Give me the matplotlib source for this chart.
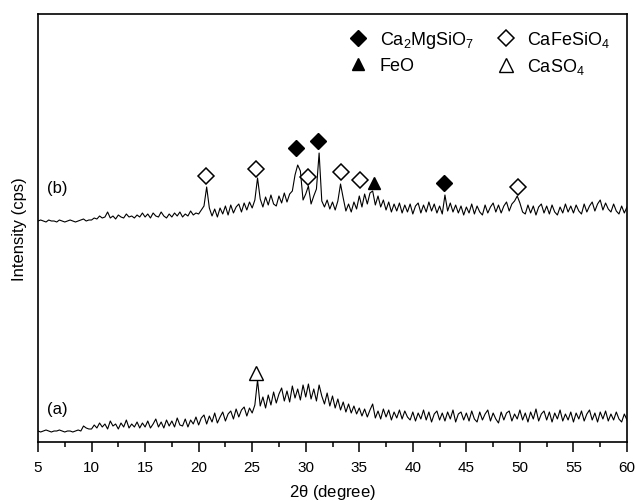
import numpy as np
import matplotlib.pyplot as plt
from matplotlib.lines import Line2D
from matplotlib.ticker import MultipleLocator

plt.rcParams['font.family'] = ['Liberation Sans', 'DejaVu Sans']
plt.rcParams['mathtext.default'] = 'regular'

# Barrido 2theta: de 5 a 60 grados, paso 0.25
two_theta_start = 5.0
two_theta_end = 60.0

# Intensidad (cps, unidades arbitrarias) de la muestra (a)
int_a = [
    11, 10, 11, 12, 11, 10, 11, 11, 12, 11, 10, 11, 11, 10, 11, 12, 11, 16, 14, 13,
    13, 17, 14, 19, 15, 18, 13, 21, 16, 18, 13, 19, 15, 22, 14, 18, 15, 20, 14, 19,
    15, 21, 14, 18, 23, 15, 20, 14, 22, 16, 21, 15, 24, 17, 16, 23, 15, 22, 18, 25,
    17, 24, 27, 18, 26, 20, 29, 19, 25, 30, 21, 28, 31, 23, 33, 25, 32, 35, 26, 34,
    29, 37, 62, 36, 45, 34, 47, 37, 50, 39, 48, 54, 41, 51, 40, 56, 44, 53, 42, 57,
    45, 58, 43, 53, 41, 57, 46, 38, 49, 36, 46, 34, 43, 32, 40, 30, 38, 29, 36, 28,
    34, 26, 33, 25, 32, 38, 24, 31, 23, 33, 25, 32, 22, 30, 24, 32, 23, 31, 25, 22,
    30, 21, 29, 23, 32, 22, 30, 20, 28, 31, 22, 29, 21, 30, 23, 32, 20, 28, 30, 22,
    29, 21, 31, 23, 20, 30, 22, 28, 32, 21, 29, 23, 19, 30, 22, 29, 31, 21, 28, 23,
    32, 22, 29, 20, 30, 23, 33, 21, 28, 31, 22, 30, 20, 29, 23, 32, 21, 28, 22, 30,
    20, 29, 23, 31, 21, 28, 32, 22, 29, 20, 30, 23, 31, 21, 28, 22, 30, 23, 20, 28, 22,
]

# Intensidad de la muestra (b)
int_b = [
    8, 9, 8, 7, 9, 8, 8, 7, 9, 8, 7, 8, 9, 8, 7, 8, 9, 10, 8, 9,
    9, 11, 10, 13, 11, 12, 17, 11, 13, 10, 14, 12, 11, 15, 12, 13, 11, 14, 12, 16,
    12, 15, 11, 16, 13, 12, 17, 13, 11, 15, 12, 16, 13, 17, 12, 15, 13, 18, 14, 16,
    15, 19, 23, 42, 21, 13, 20, 12, 21, 15, 23, 14, 24, 16, 22, 25, 17, 26, 19, 27,
    21, 29, 51, 30, 22, 32, 24, 34, 25, 23, 33, 26, 36, 27, 35, 38, 54, 64, 58, 29,
    35, 43, 25, 33, 40, 76, 28, 22, 29, 20, 27, 19, 28, 45, 31, 18, 25, 17, 27, 20,
    33, 22, 35, 25, 36, 38, 24, 33, 22, 29, 19, 27, 17, 25, 18, 26, 16, 24, 17, 25,
    15, 23, 26, 16, 24, 17, 27, 18, 25, 16, 23, 15, 34, 18, 26, 17, 24, 16, 23, 14,
    22, 16, 25, 15, 23, 17, 14, 24, 16, 22, 26, 17, 24, 16, 23, 27, 18, 25, 28, 33,
    26, 17, 15, 24, 16, 23, 14, 22, 25, 16, 23, 15, 24, 17, 14, 22, 16, 25, 17, 23,
    16, 24, 18, 15, 25, 17, 23, 27, 18, 25, 29, 19, 26, 20, 17, 25, 18, 15, 23, 16, 22,
]
offset_b = 213  # desplazamiento vertical de la curva (b)

# Identificacion de fases (posicion 2theta, altura del simbolo)
ca2mgsio7_pos = [29.1, 31.1, 42.9]
ca2mgsio7_h = [294, 301, 259]
cafesio4_pos = [20.7, 25.4, 30.2, 33.3, 35.1, 49.8]
cafesio4_h = [266, 273, 265, 270, 262, 255]
feo_pos = [36.4]
feo_h = [259]
caso4_pos = [25.4]
caso4_h = [69]

x_a = np.linspace(two_theta_start, two_theta_end, len(int_a))
x_b = np.linspace(two_theta_start, two_theta_end, len(int_b))

fig = plt.figure(figsize=(6.36, 5.02), dpi=100)
ax = fig.add_axes([38 / 636, 1 - 443 / 502, (627 - 38) / 636, (443 - 15) / 502])

ax.plot(x_a, int_a, color='black', lw=0.8)
ax.plot(x_b, np.array(int_b) + offset_b, color='black', lw=0.8)

ax.plot(ca2mgsio7_pos, ca2mgsio7_h, 'D', color='black', ms=8.5, ls='none')
ax.plot(cafesio4_pos, cafesio4_h, 'D', mfc='white', mec='black', mew=1.1, ms=8.5, ls='none')
ax.plot(feo_pos, feo_h, '^', color='black', ms=9, ls='none')
ax.plot(caso4_pos, caso4_h, '^', mfc='white', mec='black', mew=1.0, ms=10, ls='none')

ax.text(5.8, 33, '(a)', fontsize=12, va='center', ha='left')
ax.text(5.8, 255, '(b)', fontsize=12, va='center', ha='left')

handles = [
    Line2D([], [], marker='D', color='black', ls='none', ms=8.5),
    Line2D([], [], marker='^', color='black', ls='none', ms=9),
    Line2D([], [], marker='D', mfc='white', mec='black', mew=1.1, ls='none', ms=8.5),
    Line2D([], [], marker='^', mfc='white', mec='black', mew=1.0, ls='none', ms=10),
]
labels = [r'Ca$_2$MgSiO$_7$', 'FeO', r'CaFeSiO$_4$', r'CaSO$_4$']
ax.legend(handles, labels, ncol=2, loc='upper left', bbox_to_anchor=(0.528, 0.965),
          frameon=False, fontsize=13, handlelength=1.0, handletextpad=0.7,
          columnspacing=1.25, labelspacing=0.4, borderpad=0, borderaxespad=0)

ax.set_xlim(5, 60)
ax.set_ylim(0, 428)
ax.xaxis.set_major_locator(MultipleLocator(5))
ax.xaxis.set_minor_locator(MultipleLocator(2.5))
ax.tick_params(axis='x', which='major', direction='out', length=7, width=1.1,
               labelsize=11, pad=6)
ax.tick_params(axis='x', which='minor', direction='out', length=3.5, width=1.1)
ax.set_yticks([])
for s in ax.spines.values():
    s.set_linewidth(1.2)

ax.set_xlabel(r'2$\theta$ (degree)', fontsize=12, labelpad=6)
ax.set_ylabel('Intensity (cps)', fontsize=12, labelpad=8)

fig.savefig('out.png', dpi=100)
